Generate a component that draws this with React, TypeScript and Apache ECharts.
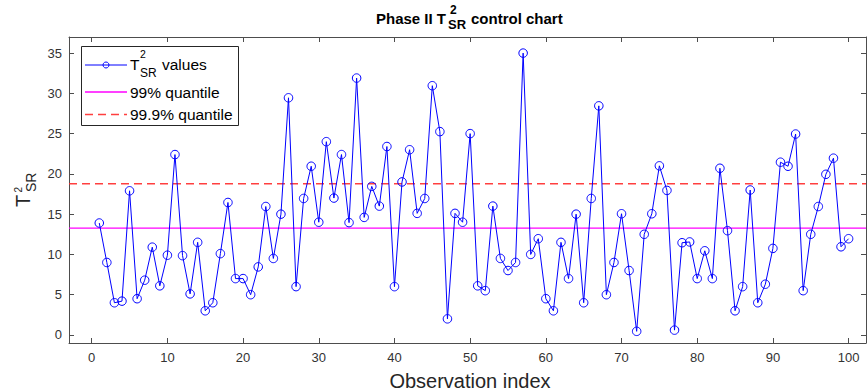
import React, { useEffect, useRef } from "react";
import * as echarts from "echarts";

// ---- data ----
const tValues: number[] = [
  13.9, 9.0, 4.0, 4.2, 17.9, 4.5, 6.8, 10.9, 6.1, 9.9,
  22.4, 9.85, 5.1, 11.5, 3.0, 4.0, 10.1, 16.45, 7.0, 7.0,
  5.0, 8.45, 15.95, 9.5, 15.0, 29.45, 6.0, 16.95, 20.95, 14.0,
  24.0, 17.0, 22.4, 13.95, 31.9, 14.6, 18.45, 16.0, 23.4, 6.0,
  19.0, 23.0, 15.1, 16.95, 30.95, 25.25, 2.0, 15.1, 14.0, 25.0,
  6.1, 5.5, 16.0, 9.5, 8.0, 9.0, 35.0, 10.0, 11.95, 4.5,
  3.0, 11.5, 7.0, 15.0, 4.0, 16.95, 28.45, 5.0, 9.0, 15.05,
  8.0, 0.45, 12.5, 15.05, 21.0, 17.95, 0.6, 11.45, 11.55, 7.0,
  10.45, 7.0, 20.7, 12.95, 3.0, 6.0, 18.0, 4.0, 6.3, 10.75,
  21.45, 20.95, 24.95, 5.5, 12.5, 15.95, 19.95, 21.95, 10.95, 11.95,
];
const q99: number = 13.26;
const q999: number = 18.79;
const xTicks: number[] = [0, 10, 20, 30, 40, 50, 60, 70, 80, 90, 100];
const yTicks: number[] = [0, 5, 10, 15, 20, 25, 30, 35];
const xRange: number[] = [-3, 102.3];
const yRange: number[] = [-1, 37];

const FONT = "'Liberation Sans', Arial, Helvetica, sans-serif";
const AXIS_COLOR = "#4d4d4d";
const RED = "#ff2a2a";
const MAGENTA = "#ff00ff";

export default function App() {
  const ref = useRef<HTMLDivElement>(null);

  useEffect(() => {
    document.body.style.margin = "0";
    if (!ref.current) return;
    const chart = echarts.init(ref.current, undefined, { renderer: "svg" });

    const points = tValues.map((v, i) => [i + 1, v]);
    const q99Line = xRange.map((x) => [x, q99]);
    const q999Line = xRange.map((x) => [x, q999]);

    const tickStyle = { show: true, inside: true, length: 5, lineStyle: { color: AXIS_COLOR, width: 1 } };

    const option: any = {
      animation: false,
      backgroundColor: "#ffffff",
      grid: { left: 69, right: 1, top: 37, bottom: 48, containLabel: false },
      xAxis: [
        {
          type: "value",
          min: xRange[0],
          max: xRange[1],
          position: "bottom",
          axisLine: { show: true, onZero: false, lineStyle: { color: AXIS_COLOR, width: 1 } },
          axisTick: { ...tickStyle, customValues: xTicks },
          axisLabel: {
            show: true,
            customValues: xTicks,
            margin: 8,
            color: "#333333",
            fontSize: 13,
            fontFamily: FONT,
          },
          splitLine: { show: false },
        },
        {
          type: "value",
          min: xRange[0],
          max: xRange[1],
          position: "top",
          axisLine: { show: true, onZero: false, lineStyle: { color: AXIS_COLOR, width: 1 } },
          axisTick: { ...tickStyle, customValues: xTicks },
          axisLabel: { show: false },
          splitLine: { show: false },
        },
      ],
      yAxis: [
        {
          type: "value",
          min: yRange[0],
          max: yRange[1],
          position: "left",
          axisLine: { show: true, onZero: false, lineStyle: { color: AXIS_COLOR, width: 1 } },
          axisTick: { ...tickStyle, customValues: yTicks },
          axisLabel: {
            show: true,
            customValues: yTicks,
            margin: 7,
            color: "#333333",
            fontSize: 13,
            fontFamily: FONT,
          },
          splitLine: { show: false },
        },
        {
          type: "value",
          min: yRange[0],
          max: yRange[1],
          position: "right",
          axisLine: { show: true, onZero: false, lineStyle: { color: AXIS_COLOR, width: 1 } },
          axisTick: { ...tickStyle, customValues: yTicks },
          axisLabel: { show: false },
          splitLine: { show: false },
        },
      ],
      series: [
        {
          name: "99% quantile",
          type: "line",
          xAxisIndex: 0,
          yAxisIndex: 0,
          data: q99Line,
          z: 2,
          symbol: "none",
          silent: true,
          color: MAGENTA,
          lineStyle: { color: MAGENTA, width: 1.3, type: "solid" },
        },
        {
          name: "99.9% quantile",
          type: "line",
          xAxisIndex: 0,
          yAxisIndex: 0,
          data: q999Line,
          z: 2,
          symbol: "none",
          silent: true,
          color: RED,
          lineStyle: { color: RED, width: 1.5, type: [8, 5], opacity: 0.9 },
        },
        {
          name: "T2SR values",
          type: "line",
          xAxisIndex: 0,
          yAxisIndex: 0,
          data: points,
          z: 3,
          symbol: "circle",
          symbolSize: 8.5,
          showSymbol: true,
          color: "#0000ff",
          lineStyle: { color: "#0000ff", width: 1 },
          itemStyle: { color: "rgba(0,0,0,0)", borderColor: "#0000ff", borderWidth: 1 },
        },
      ],
      graphic: [
        // title
        {
          type: "group",
          silent: true,
          children: [
            { type: "text", x: 376, y: 18.5, style: { text: "Phase II T", font: `bold 15px ${FONT}`, fill: "#000", verticalAlign: "middle" } },
            { type: "text", x: 450, y: 10, style: { text: "2", font: `bold 12px ${FONT}`, fill: "#000", verticalAlign: "middle" } },
            { type: "text", x: 448, y: 24, style: { text: "SR", font: `bold 13px ${FONT}`, fill: "#000", verticalAlign: "middle" } },
            { type: "text", x: 471, y: 18.5, style: { text: "control chart", font: `bold 15px ${FONT}`, fill: "#000", verticalAlign: "middle" } },
          ],
        },
        // x axis label
        {
          type: "text",
          silent: true,
          x: 470,
          y: 381,
          style: { text: "Observation index", font: `20px ${FONT}`, fill: "#262626", align: "center", verticalAlign: "middle" },
        },
        // y axis label (rotated)
        {
          type: "group",
          silent: true,
          x: 0,
          y: 207,
          rotation: Math.PI / 2,
          children: [
            { type: "text", x: 0, y: 23, style: { text: "T", font: `20px ${FONT}`, fill: "#262626", verticalAlign: "middle" } },
            { type: "text", x: 14.5, y: 18.5, style: { text: "2", font: `10px ${FONT}`, fill: "#262626", verticalAlign: "middle" } },
            { type: "text", x: 15, y: 31, style: { text: "SR", font: `14px ${FONT}`, fill: "#262626", verticalAlign: "middle" } },
          ],
        },
        // legend
        {
          type: "group",
          silent: true,
          z: 100,
          children: [
            { type: "rect", shape: { x: 81.5, y: 46.5, width: 157, height: 79 }, style: { fill: "#ffffff", stroke: "#262626", lineWidth: 1 } },
            { type: "line", shape: { x1: 85, y1: 65, x2: 127, y2: 65 }, style: { stroke: "#0000ff", lineWidth: 1 } },
            { type: "circle", shape: { cx: 106, cy: 65, r: 3 }, style: { fill: "none", stroke: "#0000ff", lineWidth: 1 } },
            { type: "text", x: 130, y: 64, style: { text: "T", font: `15.5px ${FONT}`, fill: "#000", verticalAlign: "middle" } },
            { type: "text", x: 140, y: 54, style: { text: "2", font: `10.5px ${FONT}`, fill: "#000", verticalAlign: "middle" } },
            { type: "text", x: 140, y: 73, style: { text: "SR", font: `12px ${FONT}`, fill: "#000", verticalAlign: "middle" } },
            { type: "text", x: 162, y: 64, style: { text: "values", font: `15.5px ${FONT}`, fill: "#000", verticalAlign: "middle" } },
            { type: "line", shape: { x1: 85, y1: 92, x2: 127, y2: 92 }, style: { stroke: MAGENTA, lineWidth: 1.3 } },
            { type: "text", x: 130, y: 92.5, style: { text: "99% quantile", font: `15.5px ${FONT}`, fill: "#000", verticalAlign: "middle" } },
            { type: "line", shape: { x1: 85, y1: 114.5, x2: 127, y2: 114.5 }, style: { stroke: RED, lineWidth: 1.5, lineDash: [8, 5], opacity: 0.9 } },
            { type: "text", x: 130, y: 114.5, style: { text: "99.9% quantile", font: `15.5px ${FONT}`, fill: "#000", verticalAlign: "middle" } },
          ],
        },
      ],
    };

    chart.setOption(option);
    return () => {
      chart.dispose();
    };
  }, []);

  return (
    <div
      ref={ref}
      style={{ position: "fixed", left: 0, top: 0, width: 867, height: 391, background: "#ffffff" }}
    />
  );
}
